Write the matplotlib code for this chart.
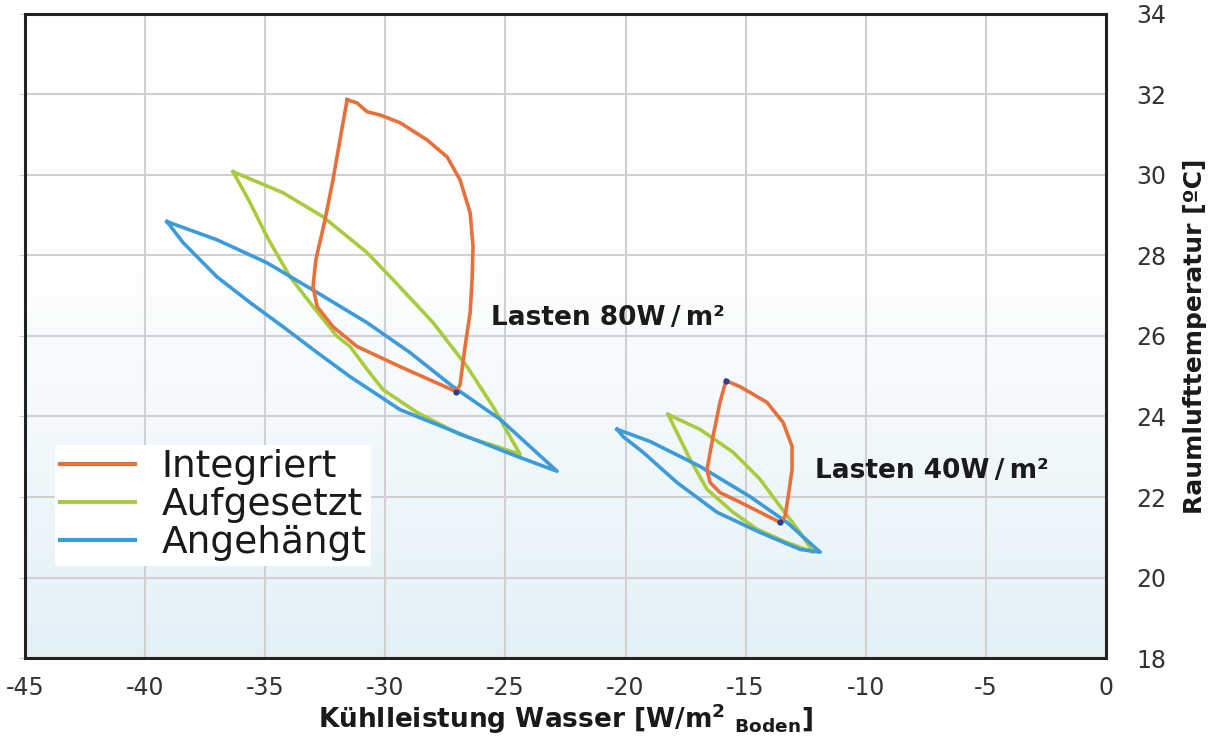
import matplotlib
matplotlib.use('Agg')
import matplotlib.pyplot as plt
import numpy as np

plt.rcParams['axes.unicode_minus'] = False
plt.rcParams['mathtext.fontset'] = 'dejavusans'

# Lasten 80 W/m2 -- Kühlleistung [W/m2] / Raumlufttemperatur [°C]
int80_x = [-31.59, -31.18, -30.76, -30.22, -29.39, -28.26, -27.43, -26.89, -26.47, -26.35,
           -26.39, -26.47, -26.64, -26.77, -26.89, -27.06, -27.43, -29.39, -31.18, -32.18,
           -32.84, -33.01, -32.89, -32.51, -32.18, -31.89, -31.59]
int80_y = [31.87, 31.79, 31.57, 31.49, 31.30, 30.87, 30.45, 29.88, 29.06, 28.22,
           27.40, 26.58, 25.91, 25.34, 24.79, 24.62, 24.72, 25.24, 25.74, 26.23,
           26.73, 27.23, 27.90, 28.89, 29.88, 30.87, 31.87]

auf80_x = [-36.34, -34.26, -32.59, -30.76, -29.68, -28.01, -26.60, -25.52, -24.81, -24.39,
           -26.89, -28.68, -30.10, -30.76, -31.47, -32.01, -33.01, -33.97, -34.93, -35.63, -36.34]
auf80_y = [30.08, 29.56, 28.96, 28.07, 27.40, 26.33, 25.24, 24.25, 23.50, 23.06,
           23.55, 24.10, 24.67, 25.17, 25.74, 25.99, 26.73, 27.47, 28.47, 29.31, 30.08]

ang80_x = [-39.09, -37.01, -34.93, -32.84, -30.76, -29.00, -27.18, -25.22, -22.85,
           -24.52, -26.60, -29.39, -31.47, -32.84, -34.26, -35.63, -37.01, -38.42, -39.09]
ang80_y = [28.84, 28.39, 27.82, 27.08, 26.33, 25.60, 24.74, 23.93, 22.64,
           23.01, 23.50, 24.17, 24.99, 25.59, 26.23, 26.83, 27.47, 28.32, 28.84]

# Lasten 40 W/m2
int40_x = [-15.82, -15.23, -14.11, -13.44, -13.07, -13.07, -13.23, -13.36, -13.57,
           -14.40, -15.23, -16.07, -16.48, -16.61, -16.36, -16.07, -15.82]
int40_y = [24.89, 24.74, 24.35, 23.85, 23.26, 22.68, 22.01, 21.52, 21.37,
           21.62, 21.87, 22.11, 22.36, 22.68, 23.50, 24.35, 24.89]

auf40_x = [-18.23, -16.90, -15.52, -14.40, -13.57, -12.74, -12.19,
           -13.28, -14.53, -15.52, -16.61, -17.31, -17.86, -18.23]
auf40_y = [24.05, 23.68, 23.11, 22.44, 21.77, 21.12, 20.63,
           20.87, 21.20, 21.62, 22.19, 22.93, 23.60, 24.05]

ang40_x = [-20.35, -18.98, -16.90, -14.82, -13.28, -11.90,
           -12.74, -14.40, -16.19, -17.86, -19.27, -20.10, -20.35]
ang40_y = [23.68, 23.38, 22.76, 22.01, 21.37, 20.63,
           20.70, 21.12, 21.62, 22.36, 23.11, 23.50, 23.68]

x_ticks = [-45, -40, -35, -30, -25, -20, -15, -10, -5, 0]
y_ticks = [18, 20, 22, 24, 26, 28, 30, 32, 34]

C_INT = '#E8703A'
C_AUF = '#A9CC3E'
C_ANG = '#3C9BD8'

fig = plt.figure(figsize=(12.09, 7.40), dpi=100, facecolor='white')
ax = fig.add_axes([0.0207, 0.1108, 0.8941, 0.8703])

# Hintergrund: oben weiss, nach unten hellblau
grad = np.linspace(0, 1, 256).reshape(-1, 1)
grad = np.clip((grad - 0.35) / 0.65, 0, 1)
top = np.array([1.0, 1.0, 1.0])
bot = np.array([0.89, 0.945, 0.972])
img = top + (bot - top) * grad[..., None]
ax.imshow(img, extent=[-45, 0, 18, 34], aspect='auto', origin='upper', zorder=0)

ax.set_xlim(-45, 0)
ax.set_ylim(18, 34)
ax.set_xticks(x_ticks)
ax.set_yticks(y_ticks)
ax.grid(True, color='#d0d0d0', linewidth=1.5, zorder=1)
ax.set_axisbelow(True)

lw = 2.6
ax.plot(int80_x, int80_y, color=C_INT, lw=lw, solid_joinstyle='round', zorder=4, label='Integriert')
ax.plot(auf80_x, auf80_y, color=C_AUF, lw=lw, solid_joinstyle='round', zorder=3, label='Aufgesetzt')
ax.plot(ang80_x, ang80_y, color=C_ANG, lw=lw, solid_joinstyle='round', zorder=3, label='Angehängt')
ax.plot(int40_x, int40_y, color=C_INT, lw=lw, solid_joinstyle='round', zorder=4)
ax.plot(auf40_x, auf40_y, color=C_AUF, lw=lw, solid_joinstyle='round', zorder=3)
ax.plot(ang40_x, ang40_y, color=C_ANG, lw=lw, solid_joinstyle='round', zorder=3)

# kleine Marker an den Umkehrpunkten
ax.plot([int80_x[15], int40_x[0], int40_x[8]], [int80_y[15], int40_y[0], int40_y[8]],
        'o', color='#2b3f8c', ms=3.5, zorder=5)

ax.text(-25.6, 26.45, 'Lasten 80W\u2009/\u2009m²', fontsize=19, fontweight='bold',
        color='#1a1a1a', va='center', ha='left', zorder=6)
ax.text(-12.1, 22.64, 'Lasten 40W\u2009/\u2009m²', fontsize=19, fontweight='bold',
        color='#1a1a1a', va='center', ha='left', zorder=6)

leg = ax.legend(loc='upper left', bbox_to_anchor=(0.028, 0.331), borderaxespad=0,
                fontsize=27, frameon=True, fancybox=False, framealpha=1,
                handlelength=2.0, handletextpad=0.72, labelspacing=0.05, borderpad=0.12)
leg.get_frame().set_facecolor('white')
leg.get_frame().set_edgecolor('none')
for line in leg.get_lines():
    line.set_linewidth(3)
for t in leg.get_texts():
    t.set_color('#1a1a1a')

for s in ax.spines.values():
    s.set_color('#222222')
    s.set_linewidth(2.2)
    s.set_zorder(7)

ax.yaxis.tick_right()
ax.yaxis.set_label_position('right')
ax.tick_params(axis='y', which='both', right=False, left=True, labelleft=False,
               labelright=True, length=4, direction='out', color='#cfcfcf',
               labelsize=17, pad=18, labelcolor='#333333')
ax.tick_params(axis='x', length=0, labelsize=17, pad=13, labelcolor='#333333')

ax.set_xlabel(r'Kühlleistung Wasser [W/m$^{\mathbf{2}}$ $_{\mathbf{Boden}}$]', fontsize=19,
              fontweight='bold', color='#1a1a1a', labelpad=1)
ax.set_ylabel('Raumlufttemperatur [ºC]', fontsize=18, fontweight='bold', color='#1a1a1a',
              labelpad=12)

fig.savefig('out.png', dpi=100, facecolor='white')
